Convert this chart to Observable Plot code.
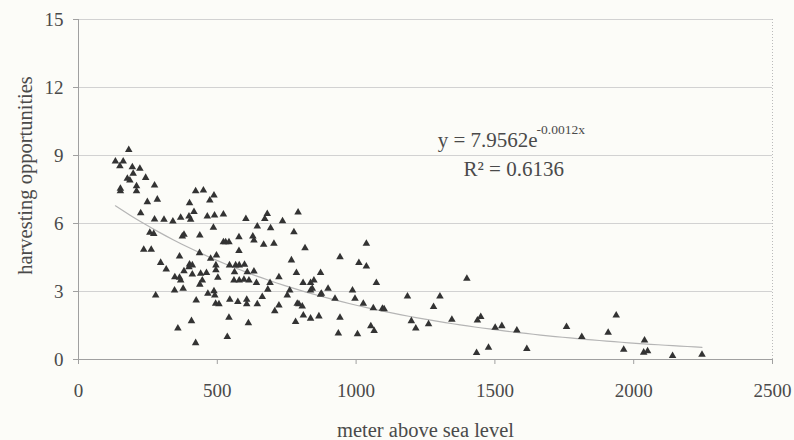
<!DOCTYPE html>
<html>
<head>
<meta charset="utf-8">
<script src="https://cdn.jsdelivr.net/npm/d3@7"></script>
<script src="https://cdn.jsdelivr.net/npm/@observablehq/plot@0.6"></script>
<style>
  html, body { margin: 0; padding: 0; background: #fcfcf8; }
  #chart { width: 794px; height: 440px; }
  svg { font-family: "Liberation Serif", "Times New Roman", serif; }
</style>
</head>
<body>
<div id="chart"></div>
<script>
// altitude (m above sea level)
const altitude = [
  181,133,161,149,194,221,197,176,185,242,151,151,209,209,274,248,284,422,450,488,473,400,224,416,791,
  274,308,340,368,398,404,464,490,522,603,671,680,735,486,644,692,235,262,257,271,374,380,437,578,628,
  632,776,704,667,522,530,542,436,497,816,296,316,364,476,767,942,1037,1010,1037,1073,400,410,398,380,347,
  364,368,410,440,461,446,437,495,495,502,544,566,579,598,562,578,579,560,596,608,614,632,641,690,682,
  722,761,785,809,836,848,842,872,875,899,346,377,278,466,488,491,494,506,424,545,574,606,606,644,662,
  707,722,752,794,788,806,836,872,924,942,936,987,996,1005,1026,1062,1095,1101,1053,1065,542,612,782,810,836,
  866,358,407,422,536,
  1185,1199,1215,1261,1279,1302,1345,1399,1434,1437,1449,1477,1501,1525,1579,1615,1758,1813,1908,1937,1964,2039,2036,2050,2140,2246
];
// harvesting opportunities
const harvest = [
  9.25,8.74,8.74,8.53,8.49,8.42,8.20,7.98,7.90,8.02,7.54,7.43,7.65,7.43,7.68,6.95,7.06,7.43,7.46,7.24,7.02,6.90,6.46,6.51,6.49,
  6.18,6.17,6.10,6.26,6.32,6.17,6.32,6.36,6.40,6.21,6.21,6.43,6.11,5.82,5.87,5.80,4.85,4.85,5.60,5.55,5.43,5.51,5.48,5.40,5.43,
  5.26,5.62,5.11,5.07,5.18,5.18,5.18,4.70,4.60,4.92,4.27,3.98,4.55,4.45,4.38,4.52,5.11,4.26,4.11,3.38,4.20,4.16,4.08,3.90,3.64,
  3.61,3.49,3.76,3.79,3.82,3.49,3.31,4.16,3.94,3.61,4.16,4.16,4.16,4.19,3.86,4.79,3.49,3.49,3.53,3.86,3.49,3.89,3.38,3.38,3.09,
  3.64,3.05,3.82,3.38,3.38,3.49,3.13,3.82,2.91,3.13,3.05,3.13,2.83,2.91,3.02,2.83,2.47,2.44,2.61,2.64,2.54,2.64,2.44,2.44,2.76,
  2.14,2.39,2.83,2.44,2.47,2.35,3.05,2.86,2.69,1.85,1.15,3.05,2.69,1.12,2.47,2.27,2.25,2.22,1.47,1.26,1.85,1.61,1.66,1.95,1.81,
  1.91,1.37,1.70,0.73,1.00,
  2.79,1.70,1.37,1.56,2.32,2.79,1.76,3.57,0.29,1.73,1.88,0.53,1.41,1.48,1.29,0.47,1.44,1.00,1.19,1.95,0.44,0.85,0.31,0.37,0.16,0.22
];
const xTicks = [0, 500, 1000, 1500, 2000, 2500];
const yTicks = [0, 3, 6, 9, 12, 15];
const xTitle = "meter above sea level";
const yTitle = "harvesting opportunities";
// exponential trendline shown on the chart: y = 7.9562 e^(-0.0012 x)
const trendA = 7.9562;
const trendB = -0.0012;
const equationText = "y = 7.9562e";
const equationExp = "-0.0012x";
const r2Text = "R² = 0.6136";

const points = altitude.map((a, i) => ({x: a, y: harvest[i]}));
const xMin = d3.min(altitude), xMax = d3.max(altitude);
const trend = d3.range(0, 81).map(i => {
  const xv = xMin + (xMax - xMin) * i / 80;
  return {x: xv, y: trendA * Math.exp(trendB * xv)};
});

const textColor = "#4a4a4a";
const chart = Plot.plot({
  width: 794,
  height: 440,
  marginLeft: 78,
  marginRight: 22,
  marginTop: 19,
  marginBottom: 81,
  style: {background: "#fcfcf8", fontFamily: "Liberation Serif, serif", fontSize: "19px", color: textColor},
  x: {domain: [0, 2500]},
  y: {domain: [0, 15]},
  marks: [
    Plot.ruleY(yTicks.filter(d => d > 0), {stroke: "#d2d2d2", strokeWidth: 1}),
    Plot.ruleX([2500], {stroke: "#bbbbbb", strokeDasharray: "1,2"}),
    Plot.ruleX([0], {stroke: "#a0a0a0"}),
    Plot.ruleY([0], {stroke: "#a0a0a0"}),
    Plot.axisX({ticks: xTicks, tickFormat: d => String(d), tickSize: 5, tickPadding: 19, stroke: "#a0a0a0", fill: textColor, fontSize: 19, label: null}),
    Plot.axisY({ticks: yTicks, tickFormat: d => String(d), tickSize: 5, tickPadding: 10, stroke: "#a0a0a0", fill: textColor, fontSize: 19, label: null}),
    Plot.text([xTitle], {frameAnchor: "bottom", text: d => d, textAnchor: "middle", lineAnchor: "bottom", dy: 77, fontSize: 20.5, fill: textColor}),
    Plot.text([yTitle], {frameAnchor: "left", text: d => d, rotate: -90, textAnchor: "middle", lineAnchor: "bottom", dx: -47, dy: -14, fontSize: 20.5, fill: textColor}),
    Plot.line(trend, {x: "x", y: "y", stroke: "#b5b5b5", strokeWidth: 1.2}),
    Plot.dot(points, {x: "x", y: "y", symbol: "triangle", r: 2.8, fill: "#333333", stroke: "none"}),
    Plot.text([equationText], {x: 1294, y: 9.36, text: d => d, textAnchor: "start", lineAnchor: "bottom", fontSize: 21, fill: textColor}),
    Plot.text([equationExp], {x: 1650, y: 9.95, text: d => d, textAnchor: "start", lineAnchor: "bottom", fontSize: 13.5, fill: textColor}),
    Plot.text([r2Text], {x: 1387, y: 8.08, text: d => d, textAnchor: "start", lineAnchor: "bottom", fontSize: 21, fill: textColor})
  ]
});
document.getElementById("chart").appendChild(chart);
</script>
</body>
</html>
